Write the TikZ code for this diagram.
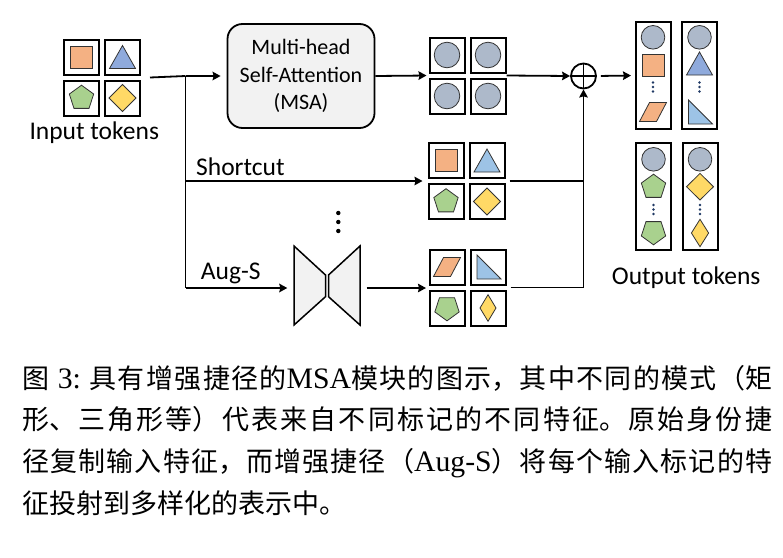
\documentclass[tikz,border=0pt]{standalone}
\usepackage{fontspec}
\setmainfont{Carlito}
\newfontfamily\cjk{Noto Sans CJK SC}
\newfontfamily\capfont{Liberation Serif}[Scale=1.1]
\usetikzlibrary{arrows.meta, positioning, calc}
\XeTeXlinebreaklocale "zh"
\XeTeXlinebreakskip=0pt plus 4pt minus 0.8pt

\definecolor{sqorange}{HTML}{F4B183}
\definecolor{triblue}{HTML}{8FAADC}
\definecolor{ltblue}{HTML}{9DC3E6}
\definecolor{pentgreen}{HTML}{A9D18E}
\definecolor{diayellow}{HTML}{FFD966}
\definecolor{circgray}{HTML}{ADB9CA}
\definecolor{boxgray}{HTML}{F2F2F2}
\definecolor{dotblue}{HTML}{1F3864}

\tikzset{
	tok/.style={draw, line width=2pt, minimum size=35pt, inner sep=0pt},
	tall/.style={draw, line width=2pt, minimum width=35pt, minimum height=107.5pt, inner sep=0pt},
	msabox/.style={draw, line width=1.8pt, fill=boxgray, rounded corners=15pt, minimum width=147pt, minimum height=104pt, align=center, font=\fontsize{22}{27.5}\selectfont},
	oplus/.style={draw, circle, line width=1.8pt, minimum size=25pt, inner sep=0pt},
	lbl/.style={inner sep=0pt, font=\fontsize{25.5}{30}\selectfont},
	captxt/.style={inner sep=0pt, text width=750pt, align=justify, font=\cjk\fontsize{27}{41.7}\selectfont},
	shp/.style={draw=black!80, line width=0.8pt},
	line/.style={line width=1.8pt},
	arr/.style={line, -{Stealth[length=8pt, width=8.5pt, inset=1pt]}},
	pics/sqr/.style={code={\draw[shp, fill=sqorange] (-11,-11) rectangle (11,11);}},
	pics/tri/.style={code={\draw[shp, fill=#1] (0,-11.5) -- (13,11.5) -- (-13,11.5) -- cycle;}},
	pics/rtri/.style={code={\draw[shp, fill=ltblue] (-11,-12) -- (-11,12) -- (13,12) -- cycle;}},
	pics/para/.style={code={\draw[shp, fill=sqorange] (-13.5,9.5) -- (3.5,9.5) -- (13.5,-9.5) -- (-3.5,-9.5) -- cycle;}},
	pics/pentup/.style={code={\draw[shp, fill=pentgreen] (-90:12.8) -- (-18:12.8) -- (54:12.8) -- (126:12.8) -- (198:12.8) -- cycle;}},
	pics/pentdn/.style={code={\draw[shp, fill=pentgreen] (90:12.8) -- (162:12.8) -- (234:12.8) -- (306:12.8) -- (18:12.8) -- cycle;}},
	pics/dia/.style args={#1/#2}{code={\draw[shp, fill=diayellow] (-#1,0) -- (0,-#2) -- (#1,0) -- (0,#2) -- cycle;}},
	pics/circ/.style={code={\draw[shp, fill=circgray] (0,0) circle[radius=#1 pt];}},
	pics/vdots/.style={code={\fill[dotblue] (0,-4.5) circle[radius=1.3pt] (0,0) circle[radius=1.3pt] (0,4.5) circle[radius=1.3pt];}}
}

\begin{document}
\begin{tikzpicture}[x=1pt, y=-1pt]
	\useasboundingbox (0,0) rectangle (783,557);

	% --- Input tokens ---
	\foreach \x/\y/\n in {81.5/57/1, 122.5/57/2, 81.5/98/3, 122.5/98/4}
		\node[tok] (in\n) at (\x,\y) {};
	\pic at (in1) {sqr};
	\pic at (in2) {tri=triblue};
	\pic at (in3) {pentup};
	\pic at (in4) {dia={13.5/13.5}};
	\node[lbl, anchor=base west] (inlbl) at (29.3,139.3) {Input tokens};

	% --- MSA branch ---
	\node[msabox] (msa) at (301,76) {Multi-head\\Self-Attention\\(MSA)};
	\foreach \x/\y/\n in {447/55/1, 488/55/2, 447/96/3, 488/96/4} {
		\node[tok] (m\n) at (\x,\y) {};
		\pic at (m\n) {circ=12.8};
	}

	% --- Shortcut branch ---
	\foreach \x/\y/\n in {446/160.5/1, 487/160.5/2, 446/201.5/3, 487/201.5/4}
		\node[tok] (sc\n) at (\x,\y) {};
	\pic at (sc1) {sqr};
	\pic at (sc2) {tri=ltblue};
	\pic at (sc3) {pentup};
	\pic at (sc4) {dia={13.5/13.5}};
	\node[lbl, anchor=base west] (sclbl) at (196,175) {Shortcut};

	% vertical dots between branches
	\fill (338.3,213) circle[radius=2.2pt] (338.3,222) circle[radius=2.2pt] (338.3,231) circle[radius=2.2pt];

	% --- Aug-S branch ---
	\node[inner sep=0pt, minimum width=66pt, minimum height=79pt] (augnet) at (327,285.5) {};
	\begin{scope}[shift={(augnet.center)}]
		\draw[line width=1.5pt, fill=boxgray] (-33,-39.5) -- (-1.5,-10.5) -- (-1.5,11.2) -- (-33,39.5) -- cycle;
		\draw[line width=1.5pt, fill=boxgray] (33,-39.5) -- (1.5,-10.5) -- (1.5,11.2) -- (33,39.5) -- cycle;
	\end{scope}
	\foreach \x/\y/\n in {447/267/1, 488/267/2, 447/308/3, 488/308/4}
		\node[tok] (ag\n) at (\x,\y) {};
	\pic at (ag1) {para};
	\pic at (ag2) {rtri};
	\pic at (ag3) {pentdn};
	\pic at (ag4) {dia={8/13.3}};
	\node[lbl, anchor=base west] (aglbl) at (200.7,279.5) {Aug-S};

	% --- Sum and output tokens ---
	\node[oplus] (add) at (583.5,76) {};
	\draw[line] (add.north) -- (add.south) (add.west) -- (add.east);
	\node[tall] (o1) at (653,75.5) {};
	\node[tall] (o2) at (699.5,75.5) {};
	\node[tall] (o3) at (653.5,196.5) {};
	\node[tall] (o4) at (700,196.5) {};
	\begin{scope}[shift={(o1)}]
		\pic at (0,-38.2) {circ=11.8};
		\pic at (0,-10.3) {sqr};
		\pic at (0,11.5) {vdots};
		\pic at (0,36.5) {para};
	\end{scope}
	\begin{scope}[shift={(o2)}]
		\pic at (0,-38.2) {circ=11.8};
		\pic at (0,-12) {tri=triblue};
		\pic at (0,11.5) {vdots};
		\pic at (0,36.5) {rtri};
	\end{scope}
	\begin{scope}[shift={(o3)}]
		\pic at (0,-37.2) {circ=11.8};
		\pic at (0,-9.5) {pentup};
		\pic at (0,13) {vdots};
		\pic at (0,35.5) {pentdn};
	\end{scope}
	\begin{scope}[shift={(o4)}]
		\pic at (0,-37.2) {circ=11.8};
		\pic at (0,-9.8) {dia={13.5/13.3}};
		\pic at (0,13) {vdots};
		\pic at (0,36.5) {dia={8.6/13.7}};
	\end{scope}
	\node[lbl, anchor=base west] (outlbl) at (611.7,284) {Output tokens};

	% --- Connectors ---
	\coordinate (inout) at ($(in2.south east)!.5!(in4.north east)$);
	\coordinate (split1) at (185.5,76);
	\coordinate (split2) at (185.5,181);
	\coordinate (split3) at (185.5,288);
	\coordinate (msain) at ($(m1.south west)!.5!(m3.north west)$);
	\coordinate (msaout) at ($(m2.south east)!.5!(m4.north east)$);
	\coordinate (scout) at ($(sc2.south east)!.5!(sc4.north east)$);
	\coordinate (agout) at ($(ag2.south east)!.5!(ag4.north east)$);

	\draw[line] ([xshift=9pt]inout) -- (split1);
	\draw[arr, shorten >=6pt] (split1) -- (msa.west);
	\draw[line] (split1) -- (split3);
	\draw[arr, shorten >=5pt] (split2) -- (split2 -| sc1.west);
	\draw[arr, shorten >=6.5pt] (split3) -- (split3 -| augnet.west);
	\draw[arr, shorten <=6.5pt, shorten >=2.5pt] (split3 -| augnet.east) -- (split3 -| ag1.west);
	\draw[arr, shorten >=2pt] (msa.east) -- (msain);
	\draw[arr] (msaout) -- (add.west);
	\draw[line] ([xshift=4pt]scout) -- (scout -| add);
	\draw[arr] ([xshift=4pt]agout) -| (add.south);
	\draw[arr, shorten <=4pt, shorten >=3.5pt] (add.east) -- (o1.west);

	% --- Caption ---
	\node[captxt, anchor=base west] (cap) at (22,388) {图{\capfont\ 3:\ }具有增强捷径的{\capfont MSA}模块的图示，其中不同的模式（矩\linebreak
	形、三角形等）代表来自不同标记的不同特征。原始身份捷\linebreak
	径复制输入特征，而增强捷径（{\capfont\mbox{Aug-S}}）将每个输入标记的特\linebreak
	征投射到多样化的表示中。};
\end{tikzpicture}
\end{document}
